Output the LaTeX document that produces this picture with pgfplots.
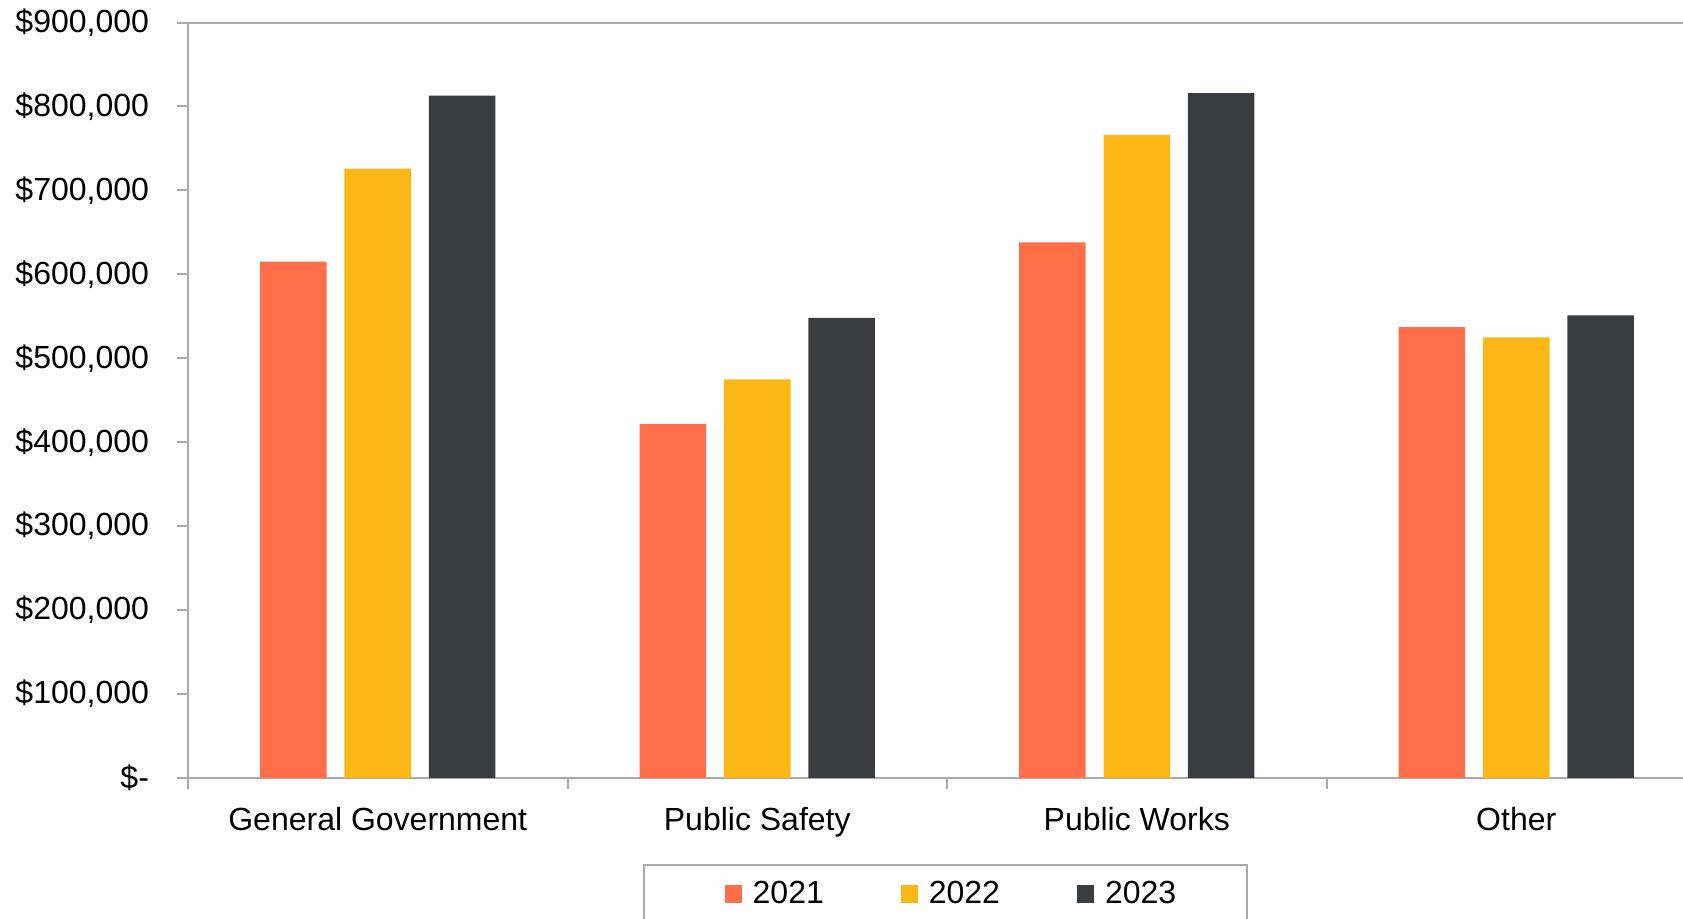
\documentclass[border=0pt]{standalone}
\usepackage{pgfplots}
\pgfplotsset{compat=1.18}
\usepackage{fontspec}
\setmainfont{Liberation Sans}
\definecolor{c21}{RGB}{255,112,74}
\definecolor{c22}{RGB}{253,183,20}
\definecolor{c23}{RGB}{57,61,65}
\definecolor{axgray}{RGB}{170,170,170}
\begin{document}
\begin{tikzpicture}
\begin{axis}[
  at={(94pt,70.5pt)}, anchor=south west,
  scale only axis, width=759pt, height=377.75pt,
  xmin=-0.5, xmax=3.5, ymin=0, ymax=900000,
  enlargelimits=false,
  ybar=8.9pt, bar width=33.25pt,
  axis line style={draw=axgray, line width=1pt},
  xtick={-0.5,0.5,1.5,2.5,3.5},
  xticklabels={General Government,Public Safety,Public Works,Other},
  x tick label as interval,
  ytick={0,100000,200000,300000,400000,500000,600000,700000,800000,900000},
  yticklabels={\$-,{\$100,000},{\$200,000},{\$300,000},{\$400,000},{\$500,000},{\$600,000},{\$700,000},{\$800,000},{\$900,000}},
  scaled y ticks=false,
  xtick pos=bottom, ytick pos=left,
  tick align=outside,
  major tick length=5.5pt,
  tick style={draw=axgray, line width=1pt},
  ticklabel style={font=\fontsize{16}{19}\selectfont, text=black},
  xticklabel style={yshift=-5.7pt},
  yticklabel style={xshift=-10.5pt},
  legend columns=3,
  legend style={at={(0.499,-0.1138)}, anchor=north, draw=axgray, line width=1pt,
    font=\fontsize{16}{19}\selectfont, inner xsep=33.15pt, inner ysep=6pt,
    /tikz/every odd column/.append style={column sep=3.5pt},
    /tikz/every even column/.append style={column sep=29.5pt}},
  legend image code/.code={\path (-7pt,0pt); \fill[#1,draw=none] (0pt,-4.5pt) rectangle (8.5pt,4.5pt);},
]
\addplot[fill=c21, draw=none] coordinates {(0,615000) (1,422000) (2,638000) (3,537000)};
\addplot[fill=c22, draw=none] coordinates {(0,726000) (1,475000) (2,766000) (3,525000)};
\addplot[fill=c23, draw=none] coordinates {(0,813000) (1,548000) (2,816000) (3,551000)};
\legend{2021,2022,2023}
\end{axis}
\pgfresetboundingbox
\useasboundingbox (0,0) rectangle (841.5pt,459.5pt);
\end{tikzpicture}
\end{document}
